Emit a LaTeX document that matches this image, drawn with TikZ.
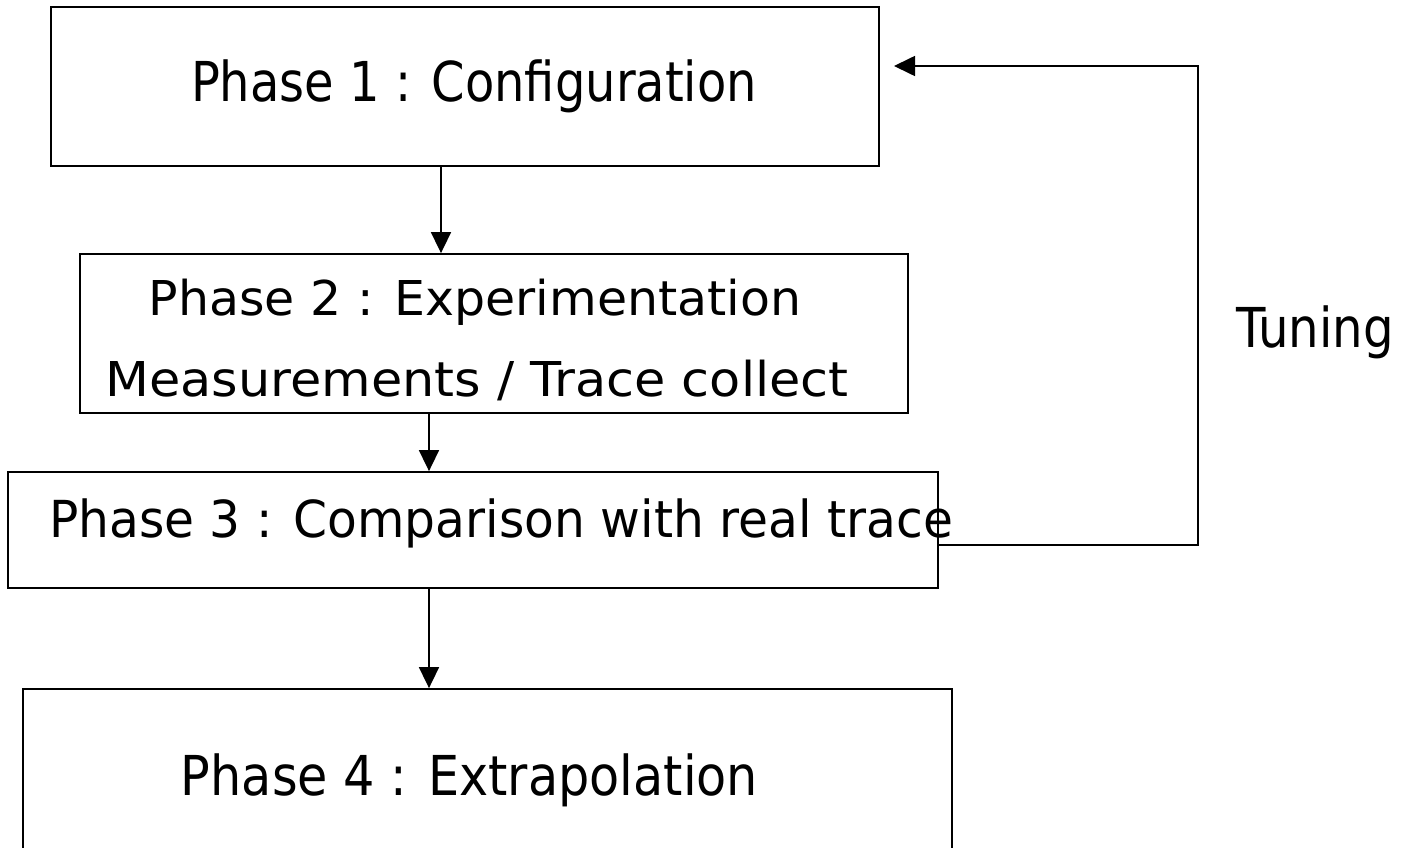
\documentclass[tikz,border=0pt]{standalone}
\usepackage{fontspec}
\setmainfont{DejaVu Sans}
\usetikzlibrary{arrows.meta}
\tikzset{
  phasebox/.style={draw=black, line width=1.8pt, inner sep=0pt},
  phasetext/.style={anchor=base, inner sep=0pt, font=\fontsize{#1}{#1}\selectfont},
  phasetext/.default=55,
  arr/.style={line width=1.7pt, -{Triangle[length=21pt,width=20pt]}}
}
% narrow a label horizontally by a given factor
\newcommand{\squeeze}[2]{\scalebox{#1}[1]{#2}}
\begin{document}
\begin{tikzpicture}[x=1pt,y=-1pt]
  \path[clip] (0,0) rectangle (1405,848);
  \fill[white] (0,0) rectangle (1405,848);

  % phase boxes
  \node[phasebox, minimum width=828pt, minimum height=159pt] (p1) at (465,86.5) {};
  \node[phasebox, minimum width=828pt, minimum height=159pt] (p2) at (494,333.5) {};
  \node[phasebox, minimum width=930pt, minimum height=116pt] (p3) at (473,530) {};
  \node[phasebox, minimum width=929pt, minimum height=181pt] (p4) at (487.5,779.5) {};

  % box labels
  \node[phasetext] (t1) at (474,102) {\squeeze{0.872}{Phase 1 : Configuration}};
  \node[phasetext=48] (t2a) at (475,315) {\squeeze{1.02}{Phase 2 : Experimentation}};
  \node[phasetext=48] (t2b) at (477,396) {\squeeze{1.06}{Measurements / Trace collect}};
  \node[phasetext=51] (t3) at (501,537) {\squeeze{0.955}{Phase 3 : Comparison with real trace}};
  \node[phasetext] (t4) at (469.5,795) {\squeeze{0.896}{Phase 4 : Extrapolation}};
  \node[phasetext] (tuning) at (1315,347) {\squeeze{0.876}{Tuning}};

  % forward flow
  \draw[arr] ([xshift=-24pt]p1.south) -- ([xshift=-24pt]p1.south |- p2.north);
  \draw[arr] ([xshift=-65pt]p2.south) -- ([xshift=-65pt]p2.south |- p3.north);
  \draw[arr] ([xshift=-44pt]p3.south) -- ([xshift=-44pt]p3.south |- p4.north);

  % feedback loop
  \coordinate (fbcorner) at (1198,545);
  \coordinate (fbend) at (894,66);
  \draw[arr] (p3.east |- fbcorner) -- (fbcorner) |- (fbend);
\end{tikzpicture}
\end{document}
